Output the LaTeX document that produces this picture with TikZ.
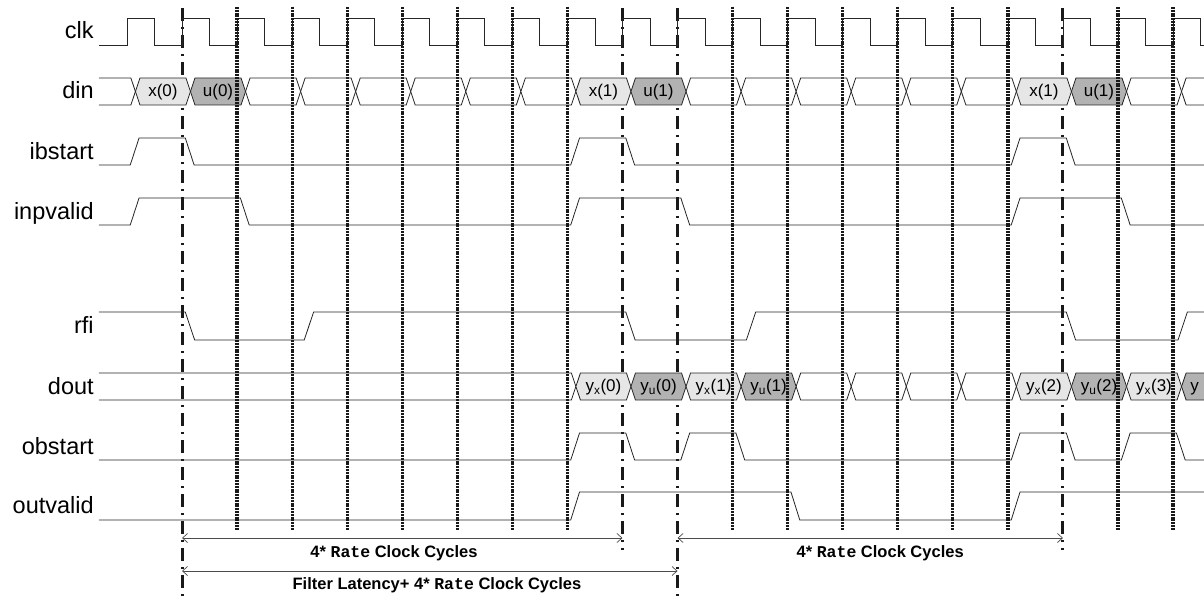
\documentclass[tikz,border=0pt]{standalone}
\usepackage{fontspec}
\setmainfont{Liberation Sans}
\setmonofont{Liberation Mono}
\usetikzlibrary{arrows.meta}

\definecolor{boxlite}{HTML}{E6E6E6}
\definecolor{boxdark}{HTML}{B2B2B2}

% one bus value: cycle, top, middle, bottom, fill
\newcommand{\busseg}[5]{\draw[wave, fill = #5] (#1+.154,#3) -- (#1+.236,#2) -- (#1+1.072,#2) -- (#1+1.154,#3) -- (#1+1.072,#4) -- (#1+.236,#4) -- cycle;}

\begin{document}
\begin{tikzpicture}[x = 55.06pt, y = -1pt,
    wave/.style = { draw = black!85, line width = .8pt },
    tick/.style = { draw = black!90, line width = 3.2pt, dash pattern = on 2pt off .8pt },
    sync/.style = { draw = black!90, line width = 3pt, dash pattern = on 13pt off 6pt on 2pt off 6pt },
    cycarrow/.style = { draw = black!70, line width = .7pt, > = {Straight Barb[length = 5pt, width = 9pt]}, <-> },
    sig/.style = { anchor = base east, inner sep = 0pt, font = \fontsize{23.5}{26}\selectfont },
    val/.style = { inner sep = 0pt, font = \fontsize{17}{19}\selectfont },
    note/.style = { inner sep = 0pt, font = \fontsize{16.5}{18}\selectfont\bfseries }]

  \clip (-3.3055,0) rectangle (18.5616,599);

  % signal names
  \foreach \s/\y in {clk/31.5, din/91.5, ibstart/151.5, inpvalid/211.5, rfi/326, dout/386.5, obstart/446.5, outvalid/506}
    \node[sig] (\s) at (-1.6,\y+7.5) {\s};

  % block boundaries
  \foreach \k/\e in {0/597, 8/550, 9/597, 16/550}
    \draw[sync] (\k,8) -- (\k,\e);
  \coordinate (a0) at (0,538);
  \coordinate (a8) at (8,538);
  \coordinate (a9) at (9,538);
  \coordinate (a16) at (16,538);
  \coordinate (b0) at (0,571);
  \coordinate (b9) at (9,571);

  % clk
  \draw[wave] (-1.51,45) \foreach \k in {-1,...,18} { -- (\k,45) -- (\k,18) -- (\k+.5,18) -- (\k+.5,45) } -- (18.6,45);

  % din
  \draw[wave] (-1.51,78) -- (-.928,78) -- (-.846,91.5) -- (-.928,105) -- (-1.51,105);
  \foreach \k in {1,2,3,4,5,6,9,10,11,12,13,14,17,18} {
    \busseg{\k}{78}{91.5}{105}{white}
  }
  \foreach \k/\c/\t in {-1/boxlite/x(0), 0/boxdark/u(0), 7/boxlite/x(1), 8/boxdark/u(1), 15/boxlite/x(1), 16/boxdark/u(1)} {
    \busseg{\k}{78}{91.5}{105}{\c}
    \node[val] (din\k) at (\k+.654,92.5) {\t};
  }

  % ibstart, inpvalid
  \draw[wave] (-1.51,165) \foreach \a/\b in {-1/0, 7/8, 15/16} { -- (\a+.06,165) -- (\a+.22,138) -- (\b+.06,138) -- (\b+.22,165) } -- (18.6,165);
  \draw[wave] (-1.51,225) \foreach \a/\b in {-1/1, 7/9, 15/17} { -- (\a+.06,225) -- (\a+.22,198) -- (\b+.06,198) -- (\b+.22,225) } -- (18.6,225);

  % rfi
  \draw[wave] (-1.51,312) -- (.06,312) -- (.23,340) -- (2.22,340) -- (2.39,312) -- (8.06,312) -- (8.23,340)
    -- (10.25,340) -- (10.42,312) -- (16.06,312) -- (16.23,340) -- (18.09,340) -- (18.26,312) -- (18.6,312);

  % dout
  \draw[wave] (-1.51,373) -- (7.072,373) -- (7.154,386.5) -- (7.072,400) -- (-1.51,400);
  \foreach \k in {11,12,13,14} {
    \busseg{\k}{373}{386.5}{400}{white}
  }
  \foreach \k/\c/\t in {7/boxlite/y\textsubscript{x}(0), 8/boxdark/y\textsubscript{u}(0), 9/boxlite/y\textsubscript{x}(1), 10/boxdark/y\textsubscript{u}(1),
      15/boxlite/y\textsubscript{x}(2), 16/boxdark/y\textsubscript{u}(2), 17/boxlite/y\textsubscript{x}(3)} {
    \busseg{\k}{373}{386.5}{400}{\c}
    \node[val] (dout\k) at (\k+.654,387.5) {\t};
  }
  \busseg{18}{373}{386.5}{400}{boxdark}
  \node[val, anchor = base west] (dout18) at (18.31,391.9) {y};

  % obstart, outvalid
  \draw[wave] (-1.51,460) \foreach \a/\b in {7/8, 9/10, 15/16, 17/18} { -- (\a+.06,460) -- (\a+.22,433) -- (\b+.06,433) -- (\b+.22,460) } -- (18.6,460);
  \draw[wave] (-1.51,520) -- (7.06,520) -- (7.22,492) -- (11.06,492) -- (11.22,520) -- (15.06,520) -- (15.22,492) -- (18.6,492);

  % clock edges
  \foreach \k in {1,2,3,4,5,6,7,10,11,12,13,14,15,17,18}
    \draw[tick] (\k,7) -- (\k,530);

  % cycle counts
  \draw[cycarrow] (a0) -- (a8);
  \draw[cycarrow] (a9) -- (a16);
  \draw[cycarrow] (b0) -- (b9);
  \node[note] (cyc1) at (3.85,553) {4* \texttt{Rate} Clock Cycles};
  \node[note] (cyc2) at (12.68,553) {4* \texttt{Rate} Clock Cycles};
  \node[note] (lat) at (4.63,585) {Filter Latency+ 4* \texttt{Rate} Clock Cycles};

\end{tikzpicture}
\end{document}
